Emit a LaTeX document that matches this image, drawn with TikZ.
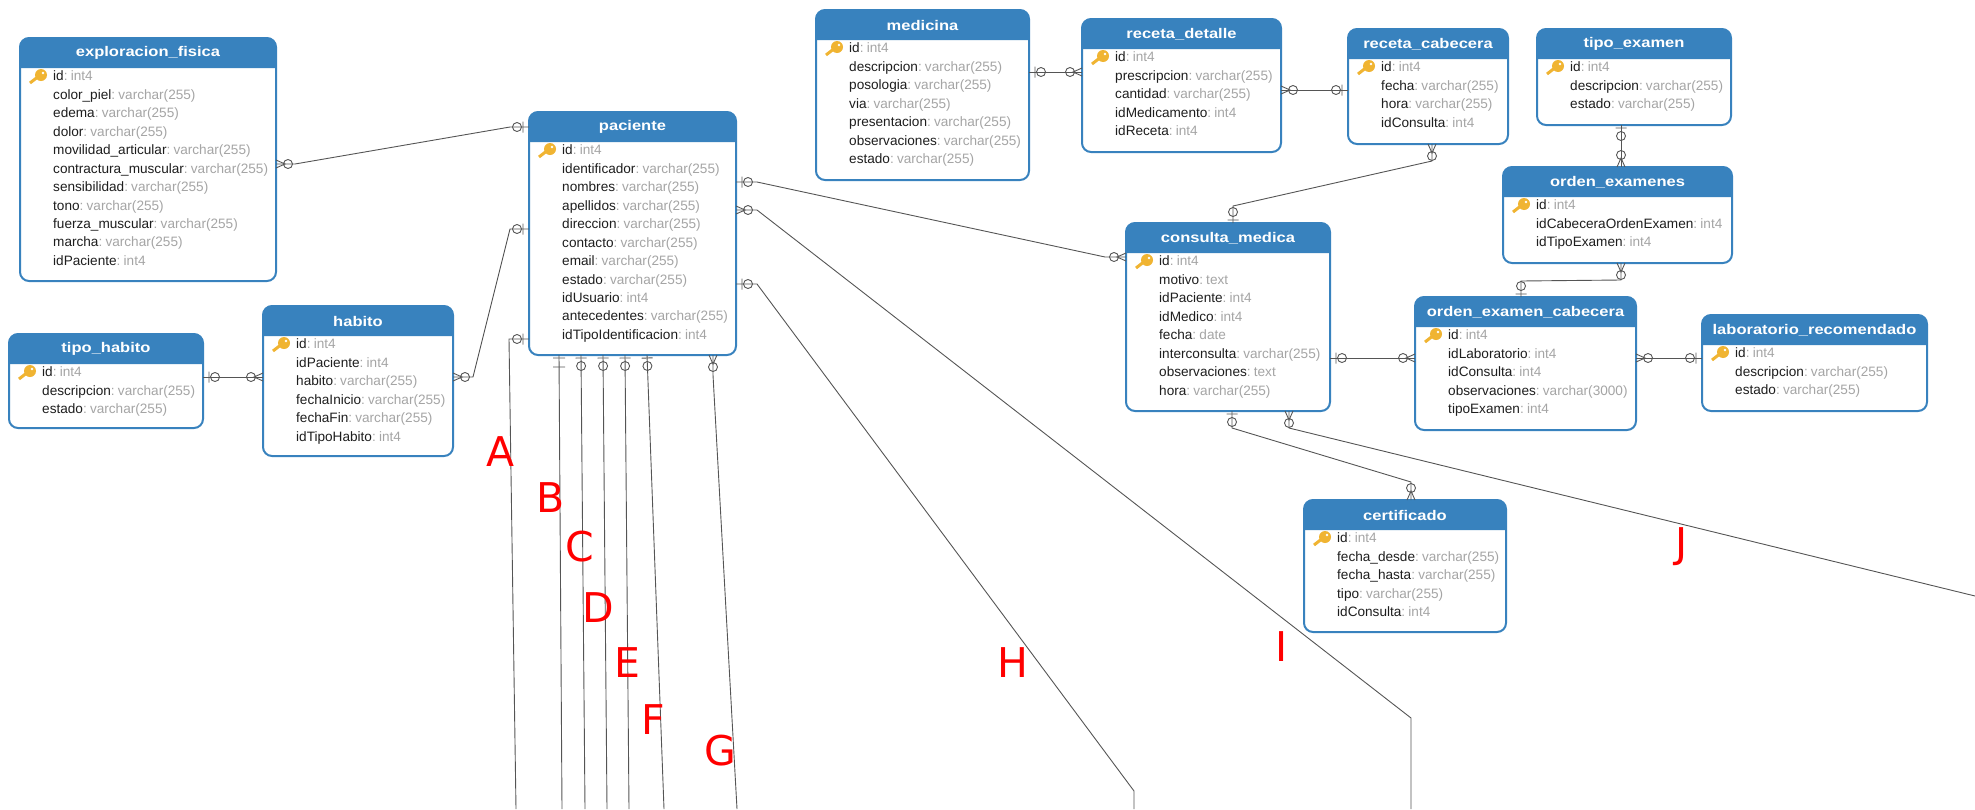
\documentclass[tikz,border=0pt]{standalone}
\usepackage{fontspec}
\usepackage{graphicx}
\setmainfont{Liberation Sans}
\newfontfamily\letterfont{DejaVu Sans}
\definecolor{headblue}{RGB}{56, 130, 190}
\definecolor{typegray}{RGB}{165, 165, 165}
\definecolor{fieldblack}{RGB}{30, 30, 30}
\definecolor{linkgray}{RGB}{85, 85, 85}
\definecolor{keygold}{RGB}{240, 180, 50}
\definecolor{letterred}{RGB}{255, 0, 0}
\usetikzlibrary{arrows}

% Crow's foot ends
\pgfarrowsdeclare{zeroone}{zeroone}{\pgfarrowsleftextend{-16pt}\pgfarrowsrightextend{0pt}}{
  \pgfpathmoveto{\pgfpoint{-6pt}{-5.5pt}}\pgfpathlineto{\pgfpoint{-6pt}{5.5pt}}
  \pgfpathcircle{\pgfpoint{-12pt}{0pt}}{4.5pt}
  \pgfusepathqstroke}
\pgfarrowsdeclare{zeronear}{zeronear}{\pgfarrowsleftextend{-16pt}\pgfarrowsrightextend{0pt}}{
  \pgfpathmoveto{\pgfpoint{-3pt}{-5.5pt}}\pgfpathlineto{\pgfpoint{-3pt}{5.5pt}}
  \pgfpathcircle{\pgfpoint{-11pt}{0pt}}{4.5pt}
  \pgfusepathqstroke}
\pgfarrowsdeclare{zeromany}{zeromany}{\pgfarrowsleftextend{-17pt}\pgfarrowsrightextend{0pt}}{
  \pgfpathmoveto{\pgfpoint{0pt}{-4pt}}\pgfpathlineto{\pgfpoint{-9pt}{0pt}}\pgfpathlineto{\pgfpoint{0pt}{4pt}}
  \pgfpathcircle{\pgfpoint{-12pt}{0pt}}{4.5pt}
  \pgfusepathqstroke}
\pgfarrowsdeclare{onlyone}{onlyone}{\pgfarrowsleftextend{-13pt}\pgfarrowsrightextend{0pt}}{
  \pgfpathmoveto{\pgfpoint{-3pt}{-6pt}}\pgfpathlineto{\pgfpoint{-3pt}{6pt}}
  \pgfpathmoveto{\pgfpoint{-12pt}{-6pt}}\pgfpathlineto{\pgfpoint{-12pt}{6pt}}
  \pgfusepathqstroke}

\tikzset{
  tablebox/.style={draw=headblue, fill=white, line width=2pt, rounded corners=9pt, outer sep=0pt, inner sep=0pt, anchor=north west},
  tabletitle/.style={font=\fontsize{14}{16}\selectfont\bfseries, text=white, inner sep=0pt},
  tablerows/.style={font=\fontsize{13.6}{18.45}\selectfont, text=fieldblack, align=left, inner sep=0pt, anchor=north west},
  erlink/.style={draw=linkgray, line width=0.9pt},
  bigletter/.style={font=\fontsize{41}{41}\selectfont\letterfont, text=letterred, inner sep=0pt},
}

% one column of a table
\newcommand{\fld}[2]{#1\textcolor{typegray}{:\hspace{3.2pt}#2}}
% table: name, left, top, right, bottom, rows
\newcommand{\ertable}[6]{
  \node[tablebox, minimum width={#4-#2}, minimum height={#5-#3}] (#1) at (#2,#3) {};
  \fill[headblue] (#2,#3+30) [rounded corners=9pt] -- (#2,#3) -- (#4,#3) [sharp corners] -- (#4,#3+30) -- cycle;
  \node[tabletitle] (#1title) at ({(#2+#4)/2},#3+15) {\scalebox{1.18}[1]{\detokenize{#1}}};
  \node[tablerows] (#1rows) at (#2+33,#3+32.8) {#6};
  % key
  \draw[keygold, line width=3pt] (#2+10,#3+45) -- (#2+19,#3+38);
  \fill[keygold] (#2+21,#3+37) circle (6pt);
  \fill[white] (#2+23,#3+35) circle (1.3pt);
}

\begin{document}
\begin{tikzpicture}[x=1pt, y=-1pt]
  \useasboundingbox (0,0) rectangle (1975,809);

  % Tables
  \ertable{exploracion_fisica}{20}{38}{276}{281}{\fld{id}{int4}\\\fld{color\_piel}{varchar(255)}\\\fld{edema}{varchar(255)}\\\fld{dolor}{varchar(255)}\\\fld{movilidad\_articular}{varchar(255)}\\\fld{contractura\_muscular}{varchar(255)}\\\fld{sensibilidad}{varchar(255)}\\\fld{tono}{varchar(255)}\\\fld{fuerza\_muscular}{varchar(255)}\\\fld{marcha}{varchar(255)}\\\fld{idPaciente}{int4}}
  \ertable{tipo_habito}{9}{334}{203}{428}{\fld{id}{int4}\\\fld{descripcion}{varchar(255)}\\\fld{estado}{varchar(255)}}
  \ertable{habito}{263}{306}{453}{456}{\fld{id}{int4}\\\fld{idPaciente}{int4}\\\fld{habito}{varchar(255)}\\\fld{fechaInicio}{varchar(255)}\\\fld{fechaFin}{varchar(255)}\\\fld{idTipoHabito}{int4}}
  \ertable{paciente}{529}{112}{736}{355}{\fld{id}{int4}\\\fld{identificador}{varchar(255)}\\\fld{nombres}{varchar(255)}\\\fld{apellidos}{varchar(255)}\\\fld{direccion}{varchar(255)}\\\fld{contacto}{varchar(255)}\\\fld{email}{varchar(255)}\\\fld{estado}{varchar(255)}\\\fld{idUsuario}{int4}\\\fld{antecedentes}{varchar(255)}\\\fld{idTipoIdentificacion}{int4}}
  \ertable{medicina}{816}{10}{1029}{180}{\fld{id}{int4}\\\fld{descripcion}{varchar(255)}\\\fld{posologia}{varchar(255)}\\\fld{via}{varchar(255)}\\\fld{presentacion}{varchar(255)}\\\fld{observaciones}{varchar(255)}\\\fld{estado}{varchar(255)}}
  \ertable{receta_detalle}{1082}{19}{1281}{152}{\fld{id}{int4}\\\fld{prescripcion}{varchar(255)}\\\fld{cantidad}{varchar(255)}\\\fld{idMedicamento}{int4}\\\fld{idReceta}{int4}}
  \ertable{receta_cabecera}{1348}{29}{1508}{144}{\fld{id}{int4}\\\fld{fecha}{varchar(255)}\\\fld{hora}{varchar(255)}\\\fld{idConsulta}{int4}}
  \ertable{tipo_examen}{1537}{29}{1731}{125}{\fld{id}{int4}\\\fld{descripcion}{varchar(255)}\\\fld{estado}{varchar(255)}}
  \ertable{orden_examenes}{1503}{167}{1732}{263}{\fld{id}{int4}\\\fld{idCabeceraOrdenExamen}{int4}\\\fld{idTipoExamen}{int4}}
  \ertable{consulta_medica}{1126}{223}{1330}{411}{\fld{id}{int4}\\\fld{motivo}{text}\\\fld{idPaciente}{int4}\\\fld{idMedico}{int4}\\\fld{fecha}{date}\\\fld{interconsulta}{varchar(255)}\\\fld{observaciones}{text}\\\fld{hora}{varchar(255)}}
  \ertable{orden_examen_cabecera}{1415}{297}{1636}{430}{\fld{id}{int4}\\\fld{idLaboratorio}{int4}\\\fld{idConsulta}{int4}\\\fld{observaciones}{varchar(3000)}\\\fld{tipoExamen}{int4}}
  \ertable{laboratorio_recomendado}{1702}{315}{1927}{411}{\fld{id}{int4}\\\fld{descripcion}{varchar(255)}\\\fld{estado}{varchar(255)}}
  \ertable{certificado}{1304}{500}{1506}{632}{\fld{id}{int4}\\\fld{fecha\_desde}{varchar(255)}\\\fld{fecha\_hasta}{varchar(255)}\\\fld{tipo}{varchar(255)}\\\fld{idConsulta}{int4}}

  % Free ends at the picture's border
  \coordinate (endA) at (516,809);
  \coordinate (endB) at (562,809);
  \coordinate (endC) at (585,809);
  \coordinate (endD) at (607,809);
  \coordinate (endE) at (629,809);
  \coordinate (endF) at (664,809);
  \coordinate (endG) at (737,809);
  \coordinate (endH) at (1134,809);
  \coordinate (endI) at (1411,809);
  \coordinate (endJ) at (1975,596);

  % Links around paciente
  \draw[erlink, zeromany-zeroone] (exploracion_fisica.east |- 0,164) -- (295,164) -- (510,127) -- (paciente.west |- 0,127);
  \draw[erlink, zeromany-zeroone] (habito.east |- 0,377) -- (473,377) -- (510,229) -- (paciente.west |- 0,229);
  \draw[erlink, zeroone-zeromany] (tipo_habito.east |- 0,377) -- (habito.west |- 0,377);
  \draw[erlink, zeroone-zeromany] (paciente.east |- 0,182) -- (757,182) -- (1105,257) -- (consulta_medica.west |- 0,257);
  \draw[erlink, zeromany-] (paciente.east |- 0,210) -- (757,210) -- (1411,718) -- (endI);
  \draw[erlink, zeroone-] (paciente.east |- 0,284) -- (757,284) -- (1134,791) -- (endH);
  \draw[erlink, zeroone-] (paciente.west |- 0,339) -- (509,339) -- (endA);
  \draw[erlink, onlyone-] (paciente.south -| 559,0) -- (endB);
  \draw[erlink, zeronear-] (paciente.south -| 581,0) -- (endC);
  \draw[erlink, zeronear-] (paciente.south -| 603,0) -- (endD);
  \draw[erlink, zeronear-] (paciente.south -| 625,0) -- (endE);
  \draw[erlink, zeronear-] (paciente.south -| 647,0) -- (endF);
  \draw[erlink, zeromany-] (paciente.south -| 713,0) -- (713,375) -- (endG);

  % Links on the right side
  \draw[erlink, zeroone-zeromany] (medicina.east |- 0,72) -- (receta_detalle.west |- 0,72);
  \draw[erlink, zeromany-zeroone] (receta_detalle.east |- 0,90) -- (receta_cabecera.west |- 0,90);
  \draw[erlink, zeromany-zeronear] (receta_cabecera.south -| 1432,0) -- (1432,161) -- (1233,206) -- (consulta_medica.north -| 1233,0);
  \draw[erlink, zeronear-zeromany] (tipo_examen.south -| 1621,0) -- (orden_examenes.north -| 1621,0);
  \draw[erlink, zeromany-zeronear] (orden_examenes.south -| 1621,0) -- (1621,280) -- (1521,281) -- (orden_examen_cabecera.north -| 1521,0);
  \draw[erlink, zeroone-zeromany] (consulta_medica.east |- 0,358) -- (orden_examen_cabecera.west |- 0,358);
  \draw[erlink, zeromany-zeroone] (orden_examen_cabecera.east |- 0,358) -- (laboratorio_recomendado.west |- 0,358);
  \draw[erlink, zeronear-zeromany] (consulta_medica.south -| 1232,0) -- (1232,428) -- (1411,482) -- (certificado.north -| 1411,0);
  \draw[erlink, zeromany-] (consulta_medica.south -| 1289,0) -- (1289,428) -- (endJ);

  % Letters
  \node[bigletter] (letterA) at (501,452) {A};
  \node[bigletter] (letterB) at (551,498) {B};
  \node[bigletter] (letterC) at (580,547) {C};
  \node[bigletter] (letterD) at (598,608) {D};
  \node[bigletter] (letterE) at (627,663) {E};
  \node[bigletter] (letterF) at (653,720) {F};
  \node[bigletter] (letterG) at (720,751) {G};
  \node[bigletter] (letterH) at (1013,663) {H};
  \node[bigletter] (letterI) at (1282,647) {I};
  \node[bigletter] (letterJ) at (1682,547) {J};
\end{tikzpicture}
\end{document}
